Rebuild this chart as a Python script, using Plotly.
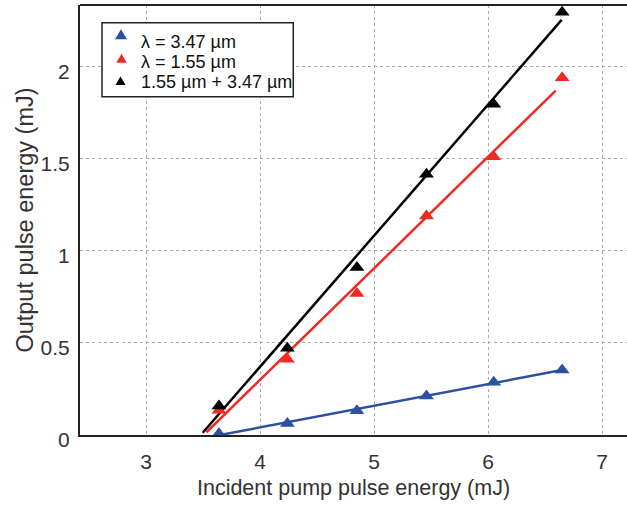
import plotly.graph_objects as go

# Measured data points
x_pump = [3.64, 4.24, 4.85, 5.46, 6.05, 6.65]
y_347 = [0.007, 0.063, 0.132, 0.212, 0.286, 0.353]
y_155 = [0.135, 0.411, 0.769, 1.189, 1.511, 1.940]
y_sum = [0.157, 0.471, 0.909, 1.416, 1.796, 2.295]

# Linear fit endpoints
fit_x_347 = [3.65, 6.65]
fit_y_347 = [0.0, 0.353]
fit_x_155 = [3.53, 6.594]
fit_y_155 = [0.015, 1.870]
fit_x_sum = [3.497, 6.646]
fit_y_sum = [0.012, 2.254]

names = ["λ = 3.47 µm", "λ = 1.55 µm", "1.55 µm + 3.47 µm"]
colors = ["#2f4fa2", "#ee2a24", "#000000"]

x_ticks = [3, 4, 5, 6, 7]
y_ticks = [0, 0.5, 1, 1.5, 2]
y_ticklabels = ["0", "0.5", "1", "1.5", "2"]

W, H = 627, 506
ML, MR, MT, MB = 80, 0, 5, 71
PW, PH = W - ML - MR, H - MT - MB

fig = go.Figure()
for fx, fy, c in [(fit_x_347, fit_y_347, colors[0]), (fit_x_155, fit_y_155, colors[1]), (fit_x_sum, fit_y_sum, colors[2])]:
    fig.add_trace(go.Scatter(x=fx, y=fy, mode="lines", line=dict(color=c, width=2.5), showlegend=False, hoverinfo="skip"))
for ys, n, c in [(y_347, names[0], colors[0]), (y_155, names[1], colors[1]), (y_sum, names[2], colors[2])]:
    fig.add_trace(go.Scatter(x=x_pump, y=ys, mode="markers", name=n, showlegend=False,
                             marker=dict(symbol="triangle-up", size=13, color=c, line=dict(width=0))))

font = "Liberation Sans, Arial, sans-serif"
fig.update_layout(
    width=W, height=H,
    margin=dict(l=ML, r=MR, t=MT, b=MB),
    paper_bgcolor="white", plot_bgcolor="white",
    font=dict(family=font, size=21, color="#333"),
    showlegend=False,
    xaxis=dict(range=[2.421, 7.219], tickvals=x_ticks, showgrid=True, automargin=False,
               gridcolor="#aaa", griddash="dot", gridwidth=1,
               showline=True, linecolor="#222", linewidth=2, zeroline=False,
               ticks="", ticklabelstandoff=7,
               title=dict(text="Incident pump pulse energy (mJ)", font=dict(size=21.5), standoff=8)),
    yaxis=dict(range=[0, 2.335], tickvals=y_ticks, ticktext=y_ticklabels, showgrid=True, automargin=False,
               gridcolor="#aaa", griddash="dot", gridwidth=1,
               showline=True, linecolor="#222", linewidth=2, zeroline=False,
               ticks="", ticklabelstandoff=4, ticklabelshift=5,
               title=dict(text="Output pulse energy (mJ)", font=dict(size=23.5), standoff=0)),
)
fig.add_shape(type="line", xref="paper", yref="paper", x0=0, x1=1, y0=1, y1=1,
              line=dict(color="#222", width=2))


# Legend drawn as a box, triangle glyphs and texts (positions in pixels -> paper)
def px(x):
    return (x - ML) / PW


def py(y):
    return 1 - (y - MT) / PH


fig.add_shape(type="rect", xref="paper", yref="paper", x0=px(102), x1=px(293.3), y0=py(22.7), y1=py(96.7),
              line=dict(color="#222", width=1.5), fillcolor="white", layer="above")
leg_tri = [(121, 34.3, 12, 10), (121.5, 58.3, 10.5, 9), (120.5, 80.7, 10, 8.5)]
leg_text = [(138.5, 41.7), (138.5, 62.3), (138.5, 82.3)]
for (cx, cy, tw, th), (tx, ty), n, c in zip(leg_tri, leg_text, names, colors):
    path = "M {:.5f} {:.5f} L {:.5f} {:.5f} L {:.5f} {:.5f} Z".format(
        px(cx - tw / 2), py(cy + th / 2), px(cx + tw / 2), py(cy + th / 2), px(cx), py(cy - th / 2))
    fig.add_shape(type="path", xref="paper", yref="paper", path=path, fillcolor=c,
                  line=dict(width=0), layer="above")
    fig.add_annotation(xref="paper", yref="paper", x=px(tx), y=py(ty), xanchor="left", yanchor="middle",
                       text=n, showarrow=False, font=dict(size=18, color="#111"))

fig.write_html("out.html", config={"displayModeBar": False})

# remove default page margin so the figure sits at the window's top-left
with open("out.html", encoding="utf-8") as f:
    html = f.read()
html = html.replace("<head>", "<head><style>html,body{margin:0;padding:0;overflow:hidden;}</style>", 1)
with open("out.html", "w", encoding="utf-8") as f:
    f.write(html)
